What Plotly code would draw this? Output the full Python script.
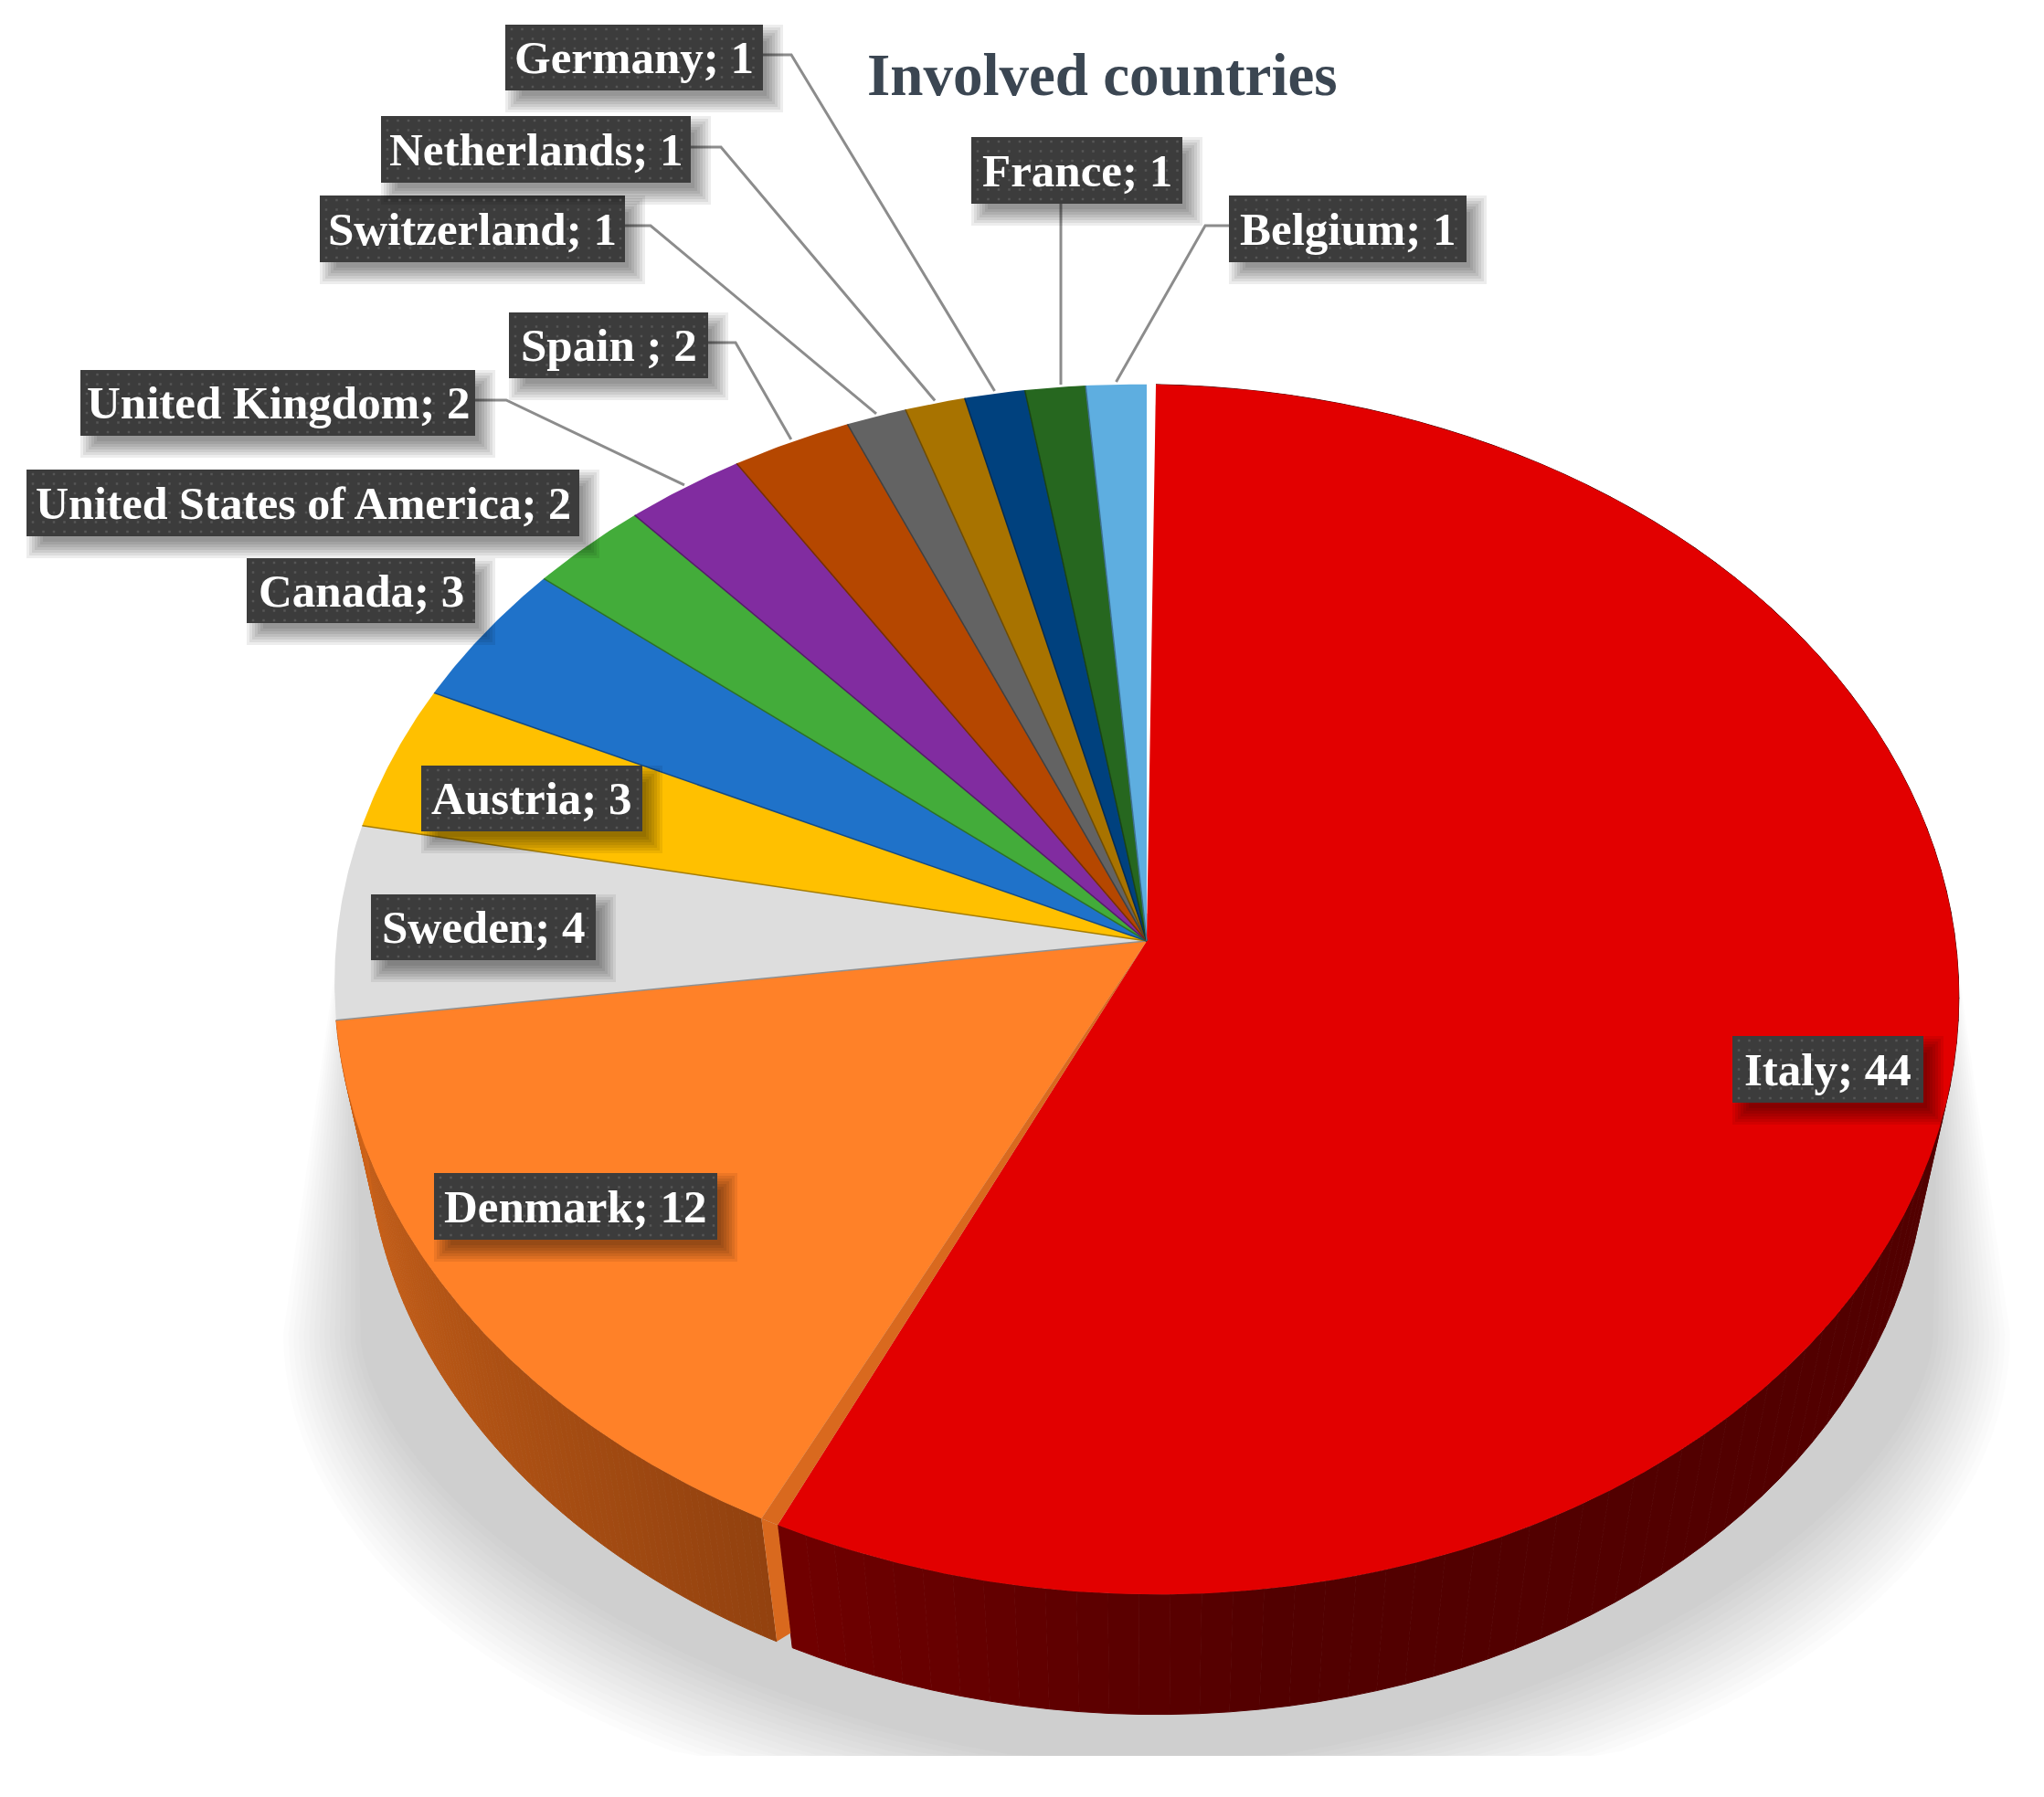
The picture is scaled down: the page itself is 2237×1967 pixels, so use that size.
import numpy as np
import plotly.graph_objects as go

# data
countries = ['Italy', 'Denmark', 'Sweden', 'Austria', 'Canada', 'United States of America',
             'United Kingdom', 'Spain', 'Switzerland', 'Netherlands', 'Germany', 'France', 'Belgium']
counts = [44, 12, 4, 3, 3, 2, 2, 2, 1, 1, 1, 1, 1]
colors = ['#e20000', '#ff8128', '#dddddd', '#ffc000', '#1f72c9', '#43ac3a', '#812ca0',
          '#b54700', '#636363', '#a87300', '#00417e', '#26671f', '#5eaee0']
separators = {'Spain': ' ; '}

# label boxes in page pixels: x0, y0, x1, y1
boxes = {
    'Italy': (1896, 1134, 2105, 1207),
    'Denmark': (475, 1284, 785, 1357),
    'Sweden': (406, 979, 652, 1051),
    'Austria': (461, 838, 703, 910),
    'Canada': (270, 611, 520, 682),
    'United States of America': (29, 514, 634, 587),
    'United Kingdom': (88, 405, 520, 477),
    'Spain': (557, 342, 775, 414),
    'Switzerland': (350, 214, 684, 287),
    'Netherlands': (417, 127, 756, 200),
    'Germany': (553, 27, 835, 99),
    'France': (1063, 150, 1294, 223),
    'Belgium': (1345, 214, 1605, 287),
}
# where each leader leaves its box and where it bends
leaders = {
    'United Kingdom': [(520, 438), (554, 438)],
    'Spain': [(775, 375), (805, 375)],
    'Switzerland': [(684, 247), (712, 247)],
    'Netherlands': [(756, 161), (789, 161)],
    'Germany': [(835, 60), (866, 60)],
    'France': [(1161, 223)],
    'Belgium': [(1345, 247), (1319, 247)],
}

W, H = 2237, 1967
APEX_X, APEX_Y = 1255, 1030
RX, RY, TILT, SKEW = 886, 658, 0.08, 8
FLOOR_Y, FLOOR_SCALE = 1190, 0.96


def rim(t, scale=1.0, y0=APEX_Y):
    # pie angle to page pixels, the back of the disc is further away
    d = 1 + TILT * np.cos(t)
    return (APEX_X + scale * RX * np.sin(t) / d,
            y0 + scale * (SKEW * np.sin(t) - RY * np.cos(t)) / d)


def poly(xs, ys, color, line=None):
    return go.Scatter(x=list(xs), y=list(ys), mode='lines', fill='toself', fillcolor=color,
                      line=dict(color=line or color, width=1 if line else 0),
                      hoverinfo='skip', showlegend=False)


def mix(c1, c2, f):
    a = [int(c1[i:i + 2], 16) for i in (1, 3, 5)]
    b = [int(c2[i:i + 2], 16) for i in (1, 3, 5)]
    return '#%02x%02x%02x' % tuple(round(p + (q - p) * f) for p, q in zip(a, b))


fig = go.Figure()

# soft shadow on the floor, cut off flat at the bottom
for d in np.linspace(120, 0, 16):
    a = np.linspace(np.pi, 0, 90)
    p = 2 - 0.3 * d / 120
    sx = 1255 + (945 - 0.7 * d) * np.sign(np.cos(a)) * np.abs(np.cos(a)) ** (2 / p)
    sy = np.minimum(1460 + (547 - 0.6 * d) * np.sin(a) ** (2 / p), 1922)
    sx = np.r_[1255 - (880 - 0.1 * d), sx, 1255 + (880 - 0.1 * d)]
    sy = np.r_[1000, sy, 1000]
    fig.add_trace(poly(sx, sy, 'rgba(0,0,0,0.01)'))

edges = 2 * np.pi * np.r_[0, np.cumsum(counts)] / sum(counts)
italy_gap, cut_gap, denmark_gap = np.radians(0.7), np.radians(0.7), np.radians(0.5)
split = edges[1]

# side walls, only Italy and Denmark show one
for t0, t1, c0, c1, first in [(split + denmark_gap, edges[2], '#93420f', '#cf641a', 0),
                              (italy_gap, split - cut_gap, '#520000', '#700000', 83)]:
    steps = np.linspace(t0, t1, 101)
    for i in range(100):
        f = max(0, (i - first) / (99 - first))
        seg = np.linspace(steps[i], steps[i + 1], 3)
        tx, ty = rim(seg)
        bx, by = rim(seg[::-1], FLOOR_SCALE, FLOOR_Y)
        col = mix(c0, c1, f)
        fig.add_trace(poly(np.r_[tx, bx], np.r_[ty, by], col, col))

# cut face of the Denmark slice, stops just short of the floor on the Italy side
ax, ay = rim(split - cut_gap)
bx, by = rim(split + denmark_gap)
ax2, ay2 = rim(split - cut_gap, FLOOR_SCALE, FLOOR_Y)
bx2, by2 = rim(split + denmark_gap, FLOOR_SCALE, FLOOR_Y)
fig.add_trace(poly([bx, ax, ax + 0.88 * (ax2 - ax), bx2],
                   [by, ay, ay + 0.88 * (ay2 - ay), by2], '#d9691e'))

# top faces
for i, name in enumerate(countries):
    t0, t1 = edges[i], edges[i + 1]
    if name == 'Italy':
        t0, t1 = t0 + italy_gap, t1 - cut_gap
    if name == 'Denmark':
        t0 = t0 + denmark_gap
    a = np.linspace(t0, t1, max(3, int(counts[i] * 12)))
    x, y = rim(a)
    fig.add_trace(poly(np.r_[APEX_X, x], np.r_[APEX_Y, y], colors[i]))

# cut band between Italy and Denmark
fig.add_trace(poly([APEX_X, ax, bx], [APEX_Y, ay, by], '#d9691e'))

# darker seam along the start of each small slice
for i, name in enumerate(countries):
    if i < 2:
        continue
    x, y = rim(edges[i])
    fig.add_trace(go.Scatter(x=[APEX_X, x], y=[APEX_Y, y], mode='lines',
                             line=dict(color=mix(colors[i], '#000000', 0.35), width=1.5),
                             hoverinfo='skip', showlegend=False))

# leader lines end on the rim of their slice
mids = (edges[:-1] + edges[1:]) / 2
for name, pts in leaders.items():
    ex, ey = rim(mids[countries.index(name)])
    if len(pts) == 1:
        ex = pts[0][0]
    xs = [p[0] for p in pts] + [ex]
    ys = [p[1] for p in pts] + [ey - 3]
    fig.add_trace(go.Scatter(x=xs, y=ys, mode='lines', line=dict(color='#8c8c8c', width=3),
                             hoverinfo='skip', showlegend=False))

# label boxes: blurred shadow, dark fill, dotted texture
dots_x, dots_y = [], []
for name, (x0, y0, x1, y1) in boxes.items():
    for d in [12, 9, 6, 3, 0, -3, -6]:
        fig.add_trace(poly([x0 + 12 - d, x1 + 10 + d, x1 + 10 + d, x0 + 12 - d],
                           [y0 + 12 - d, y0 + 12 - d, y1 + 12 + d, y1 + 12 + d],
                           'rgba(0,0,0,0.07)'))
    fig.add_trace(poly([x0, x1, x1, x0], [y0, y0, y1, y1], '#3c3c3c'))
    for gy in np.arange(y0 + 5, y1, 10.5):
        for gx in np.arange(x0 + 7, x1, 11.5):
            dots_x.append(gx)
            dots_y.append(gy)
fig.add_trace(go.Scatter(x=dots_x, y=dots_y, mode='markers',
                         marker=dict(color='#565656', size=2.5, symbol='square'),
                         hoverinfo='skip', showlegend=False))

for i, name in enumerate(countries):
    x0, y0, x1, y1 = boxes[name]
    fig.add_annotation(x=(x0 + x1) / 2, y=(y0 + y1) / 2, xref='x', yref='y', showarrow=False,
                       text=name + separators.get(name, '; ') + str(counts[i]),
                       font=dict(family='Liberation Serif', size=50 if len(name) > 20 else 51,
                                 color='white', weight='bold'))

fig.add_annotation(x=1206, y=82, xref='x', yref='y', showarrow=False, text='Involved countries',
                   font=dict(family='Liberation Serif', size=65, color='#3b4652', weight='bold'))

fig.update_layout(
    width=W, height=H, margin=dict(l=0, r=0, t=0, b=0),
    paper_bgcolor='white', plot_bgcolor='white', showlegend=False,
    xaxis=dict(range=[0, W], visible=False, fixedrange=True),
    yaxis=dict(range=[H, 0], visible=False, fixedrange=True),
)

fig.write_html("out.html", config={'displayModeBar': False},
               post_script="document.body.style.margin='0';document.body.style.overflow='hidden';")
